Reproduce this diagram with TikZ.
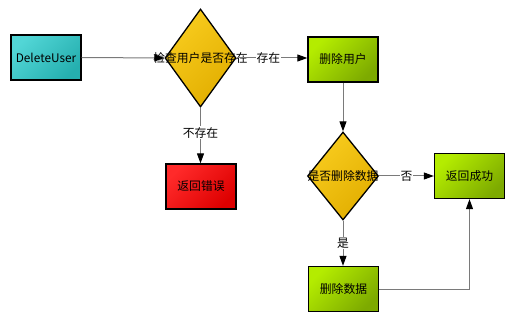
\documentclass[tikz,border=0pt]{standalone}
\usepackage{fontspec}
\setmainfont{Noto Sans CJK SC}
\usetikzlibrary{shapes.geometric,arrows.meta}
\definecolor{tealA}{HTML}{52D6D6}
\definecolor{tealB}{HTML}{25AFAF}
\definecolor{yelA}{HTML}{F8CC1E}
\definecolor{yelB}{HTML}{E2AE00}
\definecolor{redA}{HTML}{FF2A2A}
\definecolor{redB}{HTML}{DD0000}
\definecolor{grnA}{HTML}{B4EC00}
\definecolor{grnB}{HTML}{7DAA00}
\definecolor{linegray}{HTML}{7A7A7A}
\tikzset{
  x=1pt, y=-1pt,
  every node/.style={font=\fontsize{11.8}{14}\selectfont, text=black},
  boxnode/.style={draw=black, line width=1.3pt, minimum width=70pt, minimum height=45pt, inner sep=0pt},
  tealbox/.style={boxnode, left color=tealA, right color=tealB, shading angle=45},
  redbox/.style={boxnode, left color=redA, right color=redB, shading angle=45},
  grnbox/.style={boxnode, left color=grnA, right color=grnB, shading angle=45},
  decision/.style={diamond, draw=black, line width=1.3pt, inner sep=0pt, left color=yelA, right color=yelB, shading angle=45},
  conn/.style={draw=linegray, line width=1pt, -{Triangle[length=10pt,width=7pt,fill=black,color=black]}},
  lbl/.style={fill=white, inner sep=1pt},
}
\begin{document}
\begin{tikzpicture}
\useasboundingbox (0,0) rectangle (515,321);
\node[tealbox] (start) at (46,57.5) {DeleteUser};
\node[decision, minimum width=71pt, minimum height=98pt] (d1) at (200.5,58) {};
\node[inner sep=0pt] (d1t) at (200.5,58) {检查用户是否存在};
\node[grnbox] (delu) at (343,59.5) {删除用户};
\node[redbox] (err) at (201,186.5) {返回错误};
\node[decision, minimum width=71pt, minimum height=88pt] (d2) at (343,176) {};
\node[inner sep=0pt] (d2t) at (343,176) {是否删除数据};
\node[grnbox] (ok) at (469.5,176) {返回成功};
\node[grnbox] (deld) at (343.5,289) {删除数据};

\draw[conn] (start.east) -- (d1.west);
\draw[conn] (d1.east) -- (d1.east -| delu.west) node[lbl, pos=0.45] (l1) {存在};
\draw[conn] (d1.south) -- (d1.south |- err.north) node[lbl, pos=0.45] (l2) {不存在};
\draw[conn] (delu.south) -- (d2.north);
\draw[conn] (d2.east) -- (ok.west) node[lbl, pos=0.5] (l3) {否};
\draw[conn] (d2.south) -- (d2.south |- deld.north) node[lbl, pos=0.5] (l4) {是};
\draw[conn] (deld.east) -| (ok.south);
\end{tikzpicture}
\end{document}
